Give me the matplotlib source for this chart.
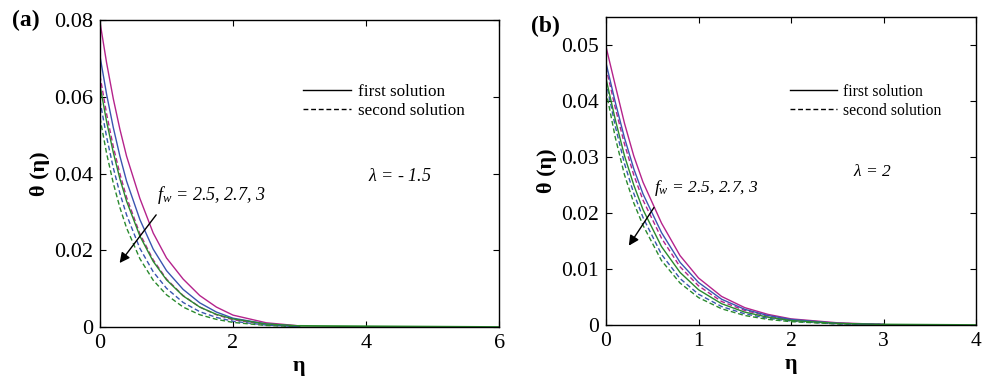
import numpy as np
import matplotlib
matplotlib.use('Agg')
import matplotlib.pyplot as plt
from matplotlib.lines import Line2D

plt.rcParams['font.family'] = ['Liberation Serif', 'DejaVu Serif']
plt.rcParams['mathtext.fontset'] = 'custom'
plt.rcParams['mathtext.it'] = 'Liberation Serif:italic'
plt.rcParams['mathtext.rm'] = 'Liberation Serif'

eta = [0, 0.1, 0.2, 0.3, 0.4, 0.6, 0.8, 1.0, 1.25, 1.5, 1.75, 2.0, 2.5, 3.0]

# panel (a): lambda = -1.5
a_mag_first = [.0795, .0688, .0595, .0515, .0445, .0335, .0245, .0180, .0125, .0082, .0052, .0031, .0011, .0003]
a_blu_first = [.0706, .0606, .0520, .0445, .0380, .0280, .0203, .0147, .0098, .0063, .0039, .0023, .0008, .0002]
a_grn_first = [.0630, .0535, .0455, .0386, .0328, .0237, .0171, .0123, .0081, .0052, .0033, .0021, .0008, .0003]
a_mag_second = [.0655, .0555, .0470, .0399, .0338, .0243, .0175, .0125, .0082, .0052, .0032, .0019, .0006, .0002]
a_blu_second = [.0590, .0495, .0415, .0348, .0292, .0205, .0144, .0101, .0064, .0040, .0025, .0015, .0005, .0001]
a_grn_second = [.0545, .0452, .0375, .0311, .0258, .0178, .0122, .0084, .0052, .0032, .0020, .0012, .0004, .0001]

# panel (b): lambda = 2
b_mag_first = [.0497, .0428, .0360, .0302, .0255, .0182, .0124, .0084, .0051, .0031, .0019, .0011, .0004, .0001]
b_blu_first = [.0468, .0398, .0334, .0279, .0234, .0165, .0112, .0076, .0046, .0028, .0017, .0010, .0003, .0001]
b_grn_first = [.0440, .0367, .0302, .0250, .0206, .0140, .0094, .0063, .0038, .0023, .0014, .0008, .0003, .0001]
b_mag_second = [.0460, .0388, .0323, .0268, .0223, .0155, .0104, .0070, .0042, .0026, .0016, .0009, .0003, .0001]
b_blu_second = [.0435, .0355, .0288, .0235, .0192, .0126, .0083, .0055, .0033, .0020, .0012, .0007, .0002, .0001]
b_grn_second = [.0418, .0335, .0268, .0218, .0178, .0115, .0075, .0049, .0029, .0017, .0010, .0006, .0002, .0001]

c_mag = '#b5238c'
c_blu = '#3a55b0'
c_grn = '#2a8a2e'
dash = (3.5, 2)


def draw(ax, first, second, xmax, ytop, yticks, ylabels, xticks, tsize):
    for vals, c in zip(second, [c_mag, c_blu, c_grn]):
        ax.plot(eta, vals, color=c, lw=1, ls='--', dashes=dash)
    for vals, c in zip(first, [c_mag, c_blu, c_grn]):
        ax.plot(eta, vals, color=c, lw=1)
    # green first solution carries on to the end of the domain
    ax.plot([eta[-1], xmax], [first[2][-1], 0], color=c_grn, lw=1.3)
    ax.set_xlim(0, xmax)
    ax.set_ylim(0, ytop)
    ax.set_xticks(xticks)
    ax.set_xticklabels([str(t) for t in xticks])
    ax.set_yticks(yticks)
    ax.set_yticklabels(ylabels)
    ax.tick_params(direction='in', top=True, right=True, labelsize=tsize, length=4, pad=5)
    for s in ax.spines.values():
        s.set_linewidth(1)
    ax.set_xlabel('η', fontsize=16, fontweight='bold', labelpad=2)
    ax.set_ylabel('θ (η)', fontsize=16, fontweight='bold', labelpad=3)
    h = [Line2D([], [], color='k', lw=1), Line2D([], [], color='k', lw=1, ls='--', dashes=dash)]
    return h


fig = plt.figure(figsize=(9.83, 3.84), dpi=100)
ax1 = fig.add_axes([0.1017, 0.1484, 0.406, 0.7995])
ax2 = fig.add_axes([0.6165, 0.1536, 0.3764, 0.802])

h = draw(ax1, [a_mag_first, a_blu_first, a_grn_first], [a_mag_second, a_blu_second, a_grn_second],
         6, 0.08, [0, 0.02, 0.04, 0.06, 0.08], ['0', '0.02', '0.04', '0.06', '0.08'], [0, 2, 4, 6], 16)
ax1.legend(h, ['first solution', 'second solution'], loc='center left', bbox_to_anchor=(0.509, 0.735),
           frameon=False, fontsize=12.3, handlelength=2.8, handletextpad=0.4, borderpad=0,
           borderaxespad=0, labelspacing=0.15)
ax1.text(0.751, 0.489, r'$\lambda$ = - 1.5', transform=ax1.transAxes, ha='center', va='center',
         fontsize=13, style='italic')
ax1.annotate('', xy=(0.27, 0.0161), xytext=(0.87, 0.0298),
             arrowprops=dict(arrowstyle='-|>', color='k', lw=1, mutation_scale=15))
ax1.text(0.85, 0.0345, r'$f_w$ = 2.5, 2.7, 3', fontsize=13, style='italic', va='center', ha='left')
fig.text(0.012, 0.948, '(a)', fontsize=17, fontweight='bold', va='center')

h = draw(ax2, [b_mag_first, b_blu_first, b_grn_first], [b_mag_second, b_blu_second, b_grn_second],
         4, 0.055, [0, 0.01, 0.02, 0.03, 0.04, 0.05], ['0', '0.01', '0.02', '0.03', '0.04', '0.05'],
         [0, 1, 2, 3, 4], 15.5)
ax2.legend(h, ['first solution', 'second solution'], loc='center left', bbox_to_anchor=(0.497, 0.727),
           frameon=False, fontsize=11.3, handlelength=3.0, handletextpad=0.4, borderpad=0,
           borderaxespad=0, labelspacing=0.2)
ax2.text(0.72, 0.497, r'$\lambda$ = 2', transform=ax2.transAxes, ha='center', va='center',
         fontsize=12.5, style='italic')
ax2.annotate('', xy=(0.23, 0.01375), xytext=(0.535, 0.0214),
             arrowprops=dict(arrowstyle='-|>', color='k', lw=1, mutation_scale=15))
ax2.text(0.52, 0.0245, r'$f_w$ = 2.5, 2.7, 3', fontsize=12.5, style='italic', va='center', ha='left')
fig.text(0.54, 0.93, '(b)', fontsize=17, fontweight='bold', va='center')

fig.savefig('out.png', dpi=100)
